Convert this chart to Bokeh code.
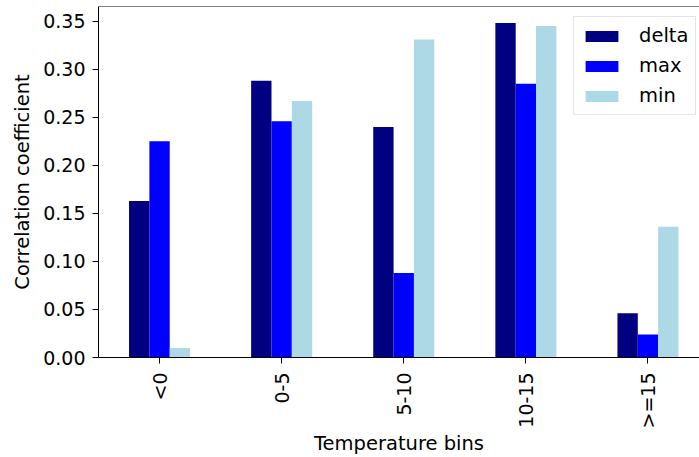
import math
from bokeh.plotting import figure
from bokeh.models import (ColumnDataSource, Range1d, FixedTicker, NumeralTickFormatter,
                          Legend, LegendItem, Span)
from bokeh.transform import dodge
from bokeh.embed import file_html
from bokeh.resources import INLINE

# ---- data ----
categories = ["<0", "0-5", "5-10", "10-15", ">=15"]
delta_vals = [0.163, 0.288, 0.240, 0.348, 0.046]
max_vals = [0.225, 0.246, 0.088, 0.285, 0.024]
min_vals = [0.010, 0.267, 0.331, 0.345, 0.136]
series_names = ["delta", "max", "min"]
y_ticks = [0.00, 0.05, 0.10, 0.15, 0.20, 0.25, 0.30, 0.35]

positions = list(range(len(categories)))
source = ColumnDataSource(data=dict(x=positions, delta=delta_vals, max=max_vals, min=min_vals))

FONT = "DejaVu Sans"
Y_END = 0.3653

p = figure(width=699, height=457, output_backend="svg", toolbar_location=None,
           x_range=Range1d(-0.5, 4.422), y_range=Range1d(0, Y_END),
           min_border_left=98, min_border_right=0, min_border_top=6, min_border_bottom=100)
p.outline_line_color = None
p.xgrid.visible = False
p.ygrid.visible = False
p.background_fill_color = "white"
p.border_fill_color = "white"

colors = ["#000080", "#0000ff", "#add8e6"]
bw = 1.0 / 6.0
offsets = [-bw, 0.0, bw]
renderers = []
for name, col, off in zip(series_names, colors, offsets):
    r = p.vbar(x=dodge("x", off, range=p.x_range), top=name, width=bw, bottom=0,
               source=source, fill_color=col, line_color=None)
    renderers.append(r)

# axes
xa = p.xaxis[0]
xa.ticker = FixedTicker(ticks=positions)
xa.major_label_overrides = {i: c for i, c in zip(positions, categories)}
xa.major_label_orientation = math.pi / 2
xa.axis_label = "Temperature bins"
ya = p.yaxis[0]
ya.ticker = FixedTicker(ticks=y_ticks)
ya.formatter = NumeralTickFormatter(format="0.00")
ya.axis_label = "Correlation coefficient"

for ax in (xa, ya):
    ax.axis_line_color = "black"
    ax.axis_line_width = 1
    ax.major_tick_line_color = "black"
    ax.major_tick_out = 6
    ax.major_tick_in = 0
    ax.minor_tick_line_color = None
    ax.major_label_text_font = FONT
    ax.major_label_text_font_size = "19px"
    ax.major_label_text_color = "black"
    ax.axis_label_text_font = FONT
    ax.axis_label_text_font_size = "19.5px"
    ax.axis_label_text_font_style = "normal"
    ax.axis_label_text_color = "black"
xa.axis_label_standoff = 0
ya.axis_label_standoff = 6
xa.major_label_standoff = 9
ya.major_label_standoff = 7

# top spine
p.add_layout(Span(location=Y_END, dimension="width", line_color="black", line_width=1))

legend = Legend(items=[LegendItem(label=n, renderers=[r]) for n, r in zip(series_names, renderers)],
                location=(475, 242))
legend.label_text_font = FONT
legend.label_text_font_size = "19.5px"
legend.label_text_color = "black"
legend.glyph_width = 41
legend.glyph_height = 14
legend.label_standoff = 17
legend.label_height = 20
legend.label_width = 40
legend.spacing = 7
legend.padding = 7
legend.margin = 0
legend.border_line_color = "#cccccc"
legend.border_line_width = 1
legend.background_fill_color = "white"
legend.background_fill_alpha = 0.8
p.add_layout(legend, "center")

open("out.html", "w").write(file_html(p, INLINE))
